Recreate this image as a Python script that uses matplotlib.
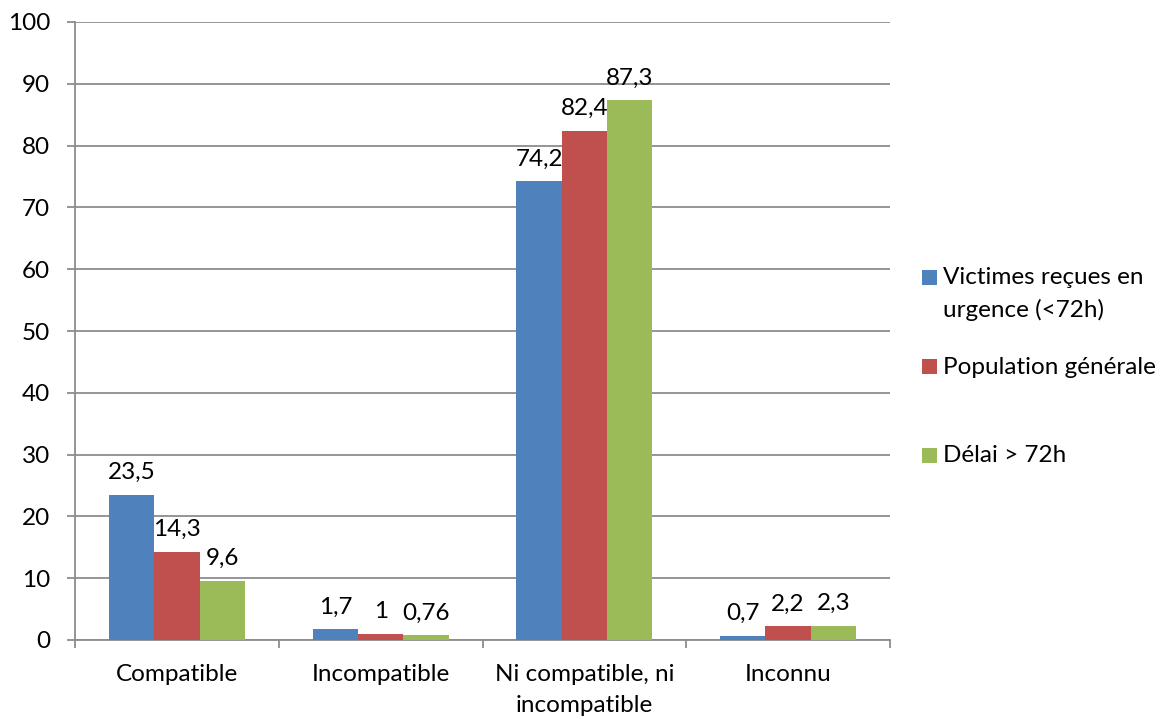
import matplotlib
matplotlib.use("Agg")
import matplotlib.pyplot as plt
from matplotlib.patches import Rectangle
import numpy as np

# Data
categories = ["Compatible", "Incompatible", "Ni compatible, ni\nincompatible", "Inconnu"]
series_names = ["Victimes reçues en\nurgence (<72h)", "Population générale", "Délai > 72h"]
victimes = [23.5, 1.7, 74.2, 0.7]
population = [14.3, 1.0, 82.4, 2.2]
delai = [9.6, 0.76, 87.3, 2.3]
value_labels = [
    ["23,5", "1,7", "74,2", "0,7"],
    ["14,3", "1", "82,4", "2,2"],
    ["9,6", "0,76", "87,3", "2,3"],
]
y_ticks = list(range(0, 101, 10))

colors = ["#4F81BD", "#C0504D", "#9BBB59"]
grid_col = "#8C8C8C"
FONT = "Lato"
FS = 17.5

plt.rcParams["font.family"] = [FONT, "DejaVu Sans"]

W, H = 1174, 719
fig = plt.figure(figsize=(W / 100, H / 100), dpi=100)
ax = fig.add_axes([75 / W, 1 - 640 / H, (890 - 75) / W, (640 - 22) / H])

x = np.arange(len(categories))
bw = 1 / 4.5
series = [victimes, population, delai]
for i, (vals, col) in enumerate(zip(series, colors)):
    pos = x + (i - 1) * bw
    ax.bar(pos, vals, width=bw, color=col, zorder=3, linewidth=0)
    for px, v, lab in zip(pos, vals, value_labels[i]):
        ax.annotate(lab, (px, v), xytext=(0, 16), textcoords="offset points",
                    ha="center", va="center", fontsize=FS, color="black", zorder=4)

ax.set_xlim(-0.5, len(categories) - 0.5)
ax.set_ylim(0, 100)
ax.set_yticks(y_ticks)
ax.set_yticklabels([str(t) for t in y_ticks])
ax.yaxis.grid(True, color=grid_col, linewidth=1.3, zorder=0)
ax.set_axisbelow(True)

ax.set_xticks(x)
ax.set_xticklabels(categories, linespacing=1.6)
ax.set_xticks(np.arange(-0.5, len(categories)), minor=True)
ax.tick_params(axis="x", which="major", length=0, pad=17, labelsize=FS)
ax.tick_params(axis="x", which="minor", length=5.8, width=1.3, color=grid_col)
ax.tick_params(axis="y", length=5.8, width=1.3, color=grid_col, pad=12, labelsize=FS)

for s in ["top", "right"]:
    ax.spines[s].set_visible(False)
for s in ["left", "bottom"]:
    ax.spines[s].set_color(grid_col)
    ax.spines[s].set_linewidth(1.3)

# Legend drawn at the right of the plot area
leg_y = [294, 367, 456]
for (name, col, yc) in zip(series_names, colors, leg_y):
    sq_top = (yc - 24) if "\n" in name else (yc - 8)
    fig.patches.append(Rectangle((922 / W, 1 - (sq_top + 15) / H), 15 / W, 15 / H,
                                 transform=fig.transFigure, facecolor=col,
                                 edgecolor="none"))
    fig.text(943 / W, 1 - yc / H, name, ha="left", va="center", fontsize=FS,
             linespacing=1.6)

fig.savefig("out.png", dpi=100)
